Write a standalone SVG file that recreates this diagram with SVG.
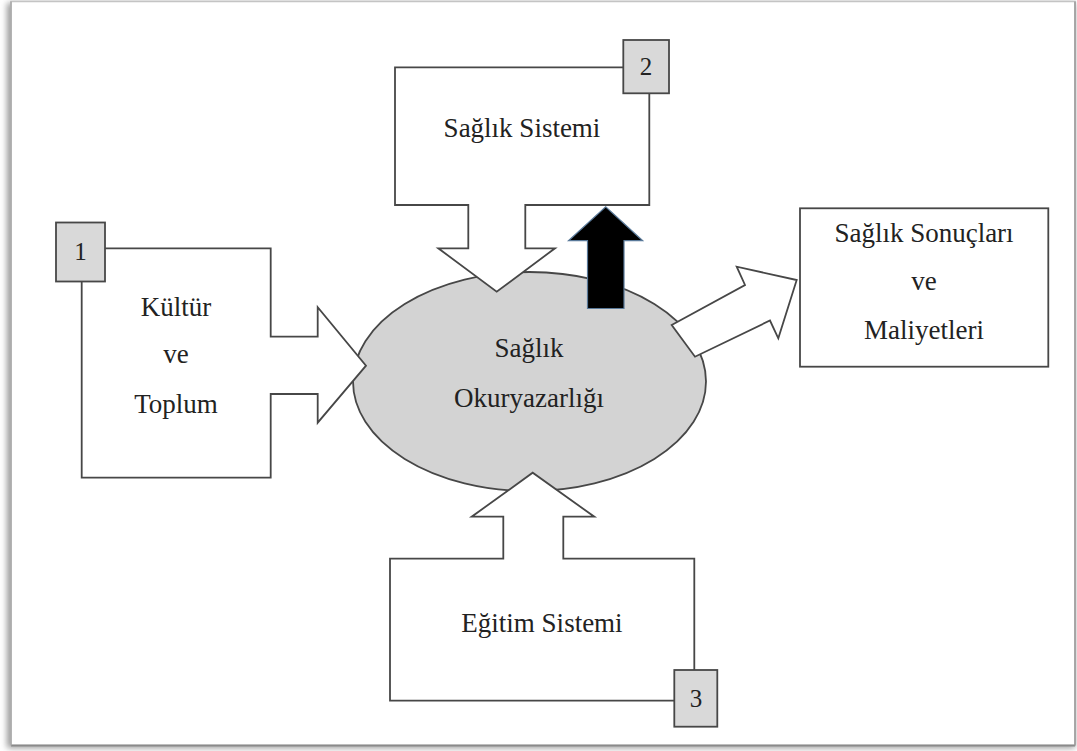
<svg xmlns="http://www.w3.org/2000/svg" width="1077" height="751" viewBox="0 0 1077 751">
<defs>
<filter id="sh" x="-5%" y="-5%" width="110%" height="110%"><feGaussianBlur stdDeviation="3"/></filter>
<style>
.shape{fill:#fff;stroke:#474747;stroke-width:1.8;stroke-linejoin:miter}
.num{fill:#d9d9d9;stroke:#474747;stroke-width:1.8}
.t{font-family:"Liberation Serif","Times New Roman",serif;font-size:27px;fill:#222;text-anchor:middle}
.n{font-family:"Liberation Serif","Times New Roman",serif;font-size:25px;fill:#222;text-anchor:middle}
</style>
</defs>
<rect width="1077" height="751" fill="#fff"/>
<g id="page">
<rect x="7" y="3" width="1068" height="745" fill="#9a9a9a" filter="url(#sh)"/>
<rect x="11" y="1.5" width="1064" height="744" fill="#fff" stroke="#c4c4c4" stroke-width="1.5"/>
<line x1="11" y1="745.5" x2="1075" y2="745.5" stroke="#8a8a8a" stroke-width="2"/>
<line x1="1075" y1="1.5" x2="1075" y2="745.5" stroke="#9a9a9a" stroke-width="1.5"/>
<line x1="11" y1="1.5" x2="11" y2="745.5" stroke="#a8a8a8" stroke-width="1.5"/>
</g>
<g id="saglik-okuryazarligi">
<ellipse cx="529.5" cy="381.5" rx="176.5" ry="109.5" fill="#d3d3d3" stroke="#474747" stroke-width="1.8"/>
<text class="t" x="529" y="357">Sağlık</text>
<text class="t" x="529" y="406.5">Okuryazarlığı</text>
</g>
<g id="connectors">
<path class="shape" d="M671.7,325 L745,285 L736.7,266.7 L796.7,280 L778.3,338.3 L770,320.5 L695,356.7 Z"/>
<path d="M587.5,308.5 V240.7 H568.5 L605.7,206.7 L642.7,240.7 H624 V308.5 Z" fill="#000" stroke="#5a7a9a" stroke-width="1.2" stroke-linejoin="miter"/>
</g>
<g id="kultur-ve-toplum">
<path class="shape" d="M81.7,248.3 H270.7 V336.7 H317.7 V307.3 L366,365.7 L317.7,422.7 V394 H270.7 V477.7 H81.7 Z"/>
<rect class="num" x="56" y="222.5" width="49" height="59"/>
<text class="n" x="80.5" y="260">1</text>
<text class="t" x="176" y="316">Kültür</text>
<text class="t" x="176" y="363">ve</text>
<text class="t" x="176" y="413">Toplum</text>
</g>
<g id="saglik-sistemi">
<path class="shape" d="M395,67.3 H649.3 V205 H525.3 V248.3 H555 L496.7,291.7 L438.3,248.3 H468.3 V205 H395 Z"/>
<rect class="num" x="623.3" y="40" width="45.7" height="53.3"/>
<text class="n" x="646" y="75">2</text>
<text class="t" x="522" y="137">Sağlık Sistemi</text>
</g>
<g id="egitim-sistemi">
<path class="shape" d="M390,558.7 H503.3 V516.7 H471.7 L532.7,472.7 L594.3,516.7 H563.3 V558.7 H694.3 V700.7 H390 Z"/>
<rect class="num" x="674.3" y="670" width="43" height="56.7"/>
<text class="n" x="696" y="707">3</text>
<text class="t" x="542" y="632">Eğitim Sistemi</text>
</g>
<g id="saglik-sonuclari">
<rect class="shape" x="800" y="208.3" width="248.3" height="158.4"/>
<text class="t" x="924" y="242">Sağlık Sonuçları</text>
<text class="t" x="924" y="290">ve</text>
<text class="t" x="924" y="338.5">Maliyetleri</text>
</g>
</svg>
